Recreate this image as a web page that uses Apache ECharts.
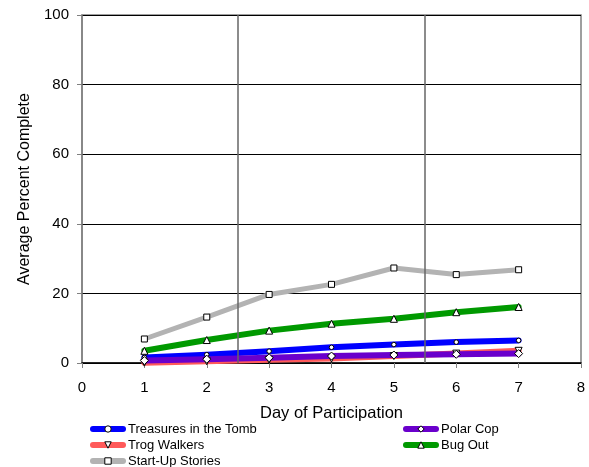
<!DOCTYPE html>
<html>
<head>
<meta charset="utf-8">
<script src="https://cdn.jsdelivr.net/npm/echarts@6/dist/echarts.min.js"></script>
<style>
  html, body { margin: 0; padding: 0; background: #fff; }
  #chart { width: 589px; height: 467px; }
</style>
</head>
<body>
<div id="chart"></div>
<script>
// Day of participation (x) and average percent complete per programme
const days = [1, 2, 3, 4, 5, 6, 7];
const treasuresInTheTomb = [1.6, 2.4, 3.4, 4.5, 5.3, 6.0, 6.5];
const polarCop = [0.7, 1.1, 1.5, 2.0, 2.3, 2.5, 2.7];
const trogWalkers = [0.1, 0.5, 0.9, 1.3, 2.0, 2.7, 3.5];
const bugOut = [3.5, 6.6, 9.3, 11.3, 12.7, 14.6, 16.1];
const startUpStories = [6.9, 13.2, 19.7, 22.6, 27.3, 25.4, 26.8];
const phaseBreaks = [2.5, 5.5];
const xTicks = [0, 1, 2, 3, 4, 5, 6, 7, 8];
const yTicks = [0, 20, 40, 60, 80, 100];

const pairs = vals => days.map((d, i) => [d, vals[i]]);
const font = 'Liberation Sans, Arial, sans-serif';

function lineSeries(name, vals, color, symbol, size, width) {
  return {
    name, type: 'line', data: pairs(vals),
    symbol, symbolSize: size,
    itemStyle: { color: '#fff', borderColor: '#000', borderWidth: 1 },
    lineStyle: { color, width, cap: 'round', join: 'round' },
    emphasis: { disabled: true },
    animation: false
  };
}

const series = [
  lineSeries('Treasures in the Tomb', treasuresInTheTomb, '#0000ff', 'circle', 4.5, 6),
  lineSeries('Trog Walkers', trogWalkers, '#ff5a5a', 'triangle', 7, 6),
  lineSeries('Polar Cop', polarCop, '#6a00cc', 'diamond', 8, 6),
  lineSeries('Bug Out', bugOut, '#009900', 'triangle', 7, 6),
  lineSeries('Start-Up Stories', startUpStories, '#b3b3b3', 'rect', 6, 5)
];
// inverted triangle for Trog Walkers
series[1].symbolRotate = 180;
// phase separators
series[0].markLine = {
  silent: true, symbol: 'none', label: { show: false },
  lineStyle: { color: '#666', width: 1.5, type: 'solid' },
  data: phaseBreaks.map(x => ({ xAxis: x }))
};

const legendBase = {
  orient: 'vertical', itemWidth: 30, itemHeight: 8, itemGap: 3,
  padding: 0, height: 60,
  textStyle: { fontFamily: font, fontSize: 13, lineHeight: 13, color: '#000' },
  lineStyle: { width: 6, cap: 'round' },
  itemStyle: { color: '#fff', borderColor: '#000', borderWidth: 1 },
  iconRotate: 'inherit',
  selectedMode: false
};

const chart = echarts.init(document.getElementById('chart'), null, { renderer: 'canvas' });
chart.setOption({
  backgroundColor: '#fff',
  animation: false,
  grid: {
    left: 82, right: 8, top: 15, bottom: 104,
    show: true, borderColor: '#808080', borderWidth: 1.5
  },
  legend: [
    Object.assign({}, legendBase, {
      left: 90, top: 422.5,
      data: ['Treasures in the Tomb', 'Trog Walkers', 'Start-Up Stories']
    }),
    Object.assign({}, legendBase, {
      left: 403, top: 422.5,
      data: ['Polar Cop', 'Bug Out']
    })
  ],
  xAxis: {
    type: 'value', min: xTicks[0], max: xTicks[xTicks.length - 1], interval: 1,
    name: 'Day of Participation', nameLocation: 'middle', nameGap: 42,
    nameTextStyle: { fontFamily: font, fontSize: 16.5, color: '#000' },
    axisLine: { onZero: false, lineStyle: { color: '#000', width: 1.5 } },
    axisTick: { show: true, length: 5, lineStyle: { color: '#808080' } },
    axisLabel: { fontFamily: font, fontSize: 15, color: '#000', margin: 17 },
    splitLine: { show: false }
  },
  yAxis: {
    type: 'value', min: yTicks[0], max: yTicks[yTicks.length - 1], interval: 20,
    name: 'Average Percent Complete', nameLocation: 'middle', nameGap: 47,
    nameTextStyle: { fontFamily: font, fontSize: 16, color: '#000' },
    axisLine: { show: true, lineStyle: { color: '#808080', width: 1.5 } },
    axisTick: { show: true, length: 5, lineStyle: { color: '#808080' } },
    axisLabel: { fontFamily: font, fontSize: 15, color: '#000', margin: 13 },
    splitLine: { show: true, lineStyle: { color: '#000', width: 1 } }
  },
  series
});
</script>
</body>
</html>
